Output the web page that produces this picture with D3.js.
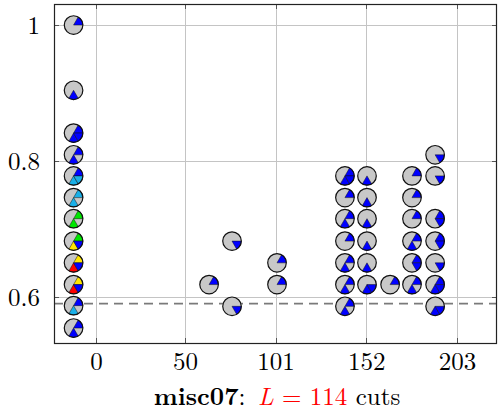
<!DOCTYPE html>
<html><head><meta charset="utf-8">
<script src="https://cdn.jsdelivr.net/npm/d3@7"></script>
<style>html,body{margin:0;padding:0;background:#fff;}svg{display:block;}</style>
</head><body>
<script>
// ---- data ----
const xTickValues = [0, 50, 101, 152, 203];
const xTickLabels = ["0", "50", "101", "152", "203"];
const yTickValues = [0.6, 0.8, 1.0];
const yTickLabels = ["0.6", "0.8", "1"];
const referenceY = 0.59;
const xDomain = [-23.6, 225.5];
const yDomain = [0.532, 1.031];

// points: x, y and 6 sector colour codes (sector k spans 60k..60(k+1) deg, ccw from 3 o'clock)
const pointX = [
  -12.6, -12.6, -12.6, -12.6, -12.6, -12.6, -12.6, -12.6, -12.6, -12.6, -12.6, -12.6,
  63.6, 76.5, 76.5, 101.8, 101.8,
  140, 140, 140, 140, 140, 140, 140,
  152.4, 152.4, 152.4, 152.4, 152.4, 152.4,
  165.4,
  177.7, 177.7, 177.7, 177.7, 177.7, 177.7,
  190.7, 190.7, 190.7, 190.7, 190.7, 190.7, 190.7
];
const pointY = [
  1.0, 0.904, 0.841, 0.809, 0.778, 0.746, 0.715, 0.682, 0.650, 0.618, 0.587, 0.554,
  0.618, 0.682, 0.586, 0.650, 0.618,
  0.778, 0.746, 0.715, 0.682, 0.650, 0.618, 0.586,
  0.778, 0.746, 0.715, 0.682, 0.650, 0.618,
  0.618,
  0.778, 0.746, 0.715, 0.682, 0.650, 0.618,
  0.809, 0.778, 0.715, 0.682, 0.650, 0.618, 0.586
];
const pointSectors = [
  "bggggg", "ggggbg", "bgggbb", "bgggbg", "bgggcc", "cgggcg", "lggglg", "lgggyb", "ygggrb", "ygggrb", "bgggcg", "bgggbg",
  "bggggg", "gggggb", "gggggb", "bggggg", "bggggg",
  "bgggbb", "bggggg", "bgggbg", "bggggg", "bgggbg", "bgggbg", "bgggbg",
  "ggggbg", "ggggbg", "ggggbg", "ggggbg", "ggggbg", "ggggbb",
  "bggggg",
  "bggggg", "bggggg", "bggggg", "bgggbg", "bggggb", "bgggbg",
  "gggggb", "gggggb", "bggggb", "bggggb", "gggggb", "bgggbb", "ggggbb"
];
const colourCodes = {g: "#c8c8c8", b: "#0000ff", c: "#1ab0e8", l: "#00e600", y: "#ffe600", r: "#ff0000"};

// ---- layout ----
const W = 498, H = 412;
const L = 54, R = 497, T = 4, B = 343;
const R0 = 9.3;
const font = "'Latin Modern Roman','Liberation Serif','DejaVu Serif',serif";

const svg = d3.select("body").append("svg").attr("width", W).attr("height", H);
const x = d3.scaleLinear().domain(xDomain).range([L, R]);
const y = d3.scaleLinear().domain(yDomain).range([B, T]);

// grid
const grid = svg.append("g").attr("stroke", "#c4c4c4").attr("stroke-width", 1);
grid.selectAll("line.v").data(xTickValues).join("line")
  .attr("x1", d => Math.round(x(d)) + 0.5).attr("x2", d => Math.round(x(d)) + 0.5)
  .attr("y1", T).attr("y2", B);
grid.selectAll("line.h").data(yTickValues).join("line")
  .attr("y1", d => Math.round(y(d)) + 0.5).attr("y2", d => Math.round(y(d)) + 0.5)
  .attr("x1", L).attr("x2", R);

// axes
const xAxis = d3.axisBottom(x).tickValues(xTickValues).tickFormat((d, i) => xTickLabels[i]).tickSize(0).tickPadding(8);
const yAxis = d3.axisLeft(y).tickValues(yTickValues).tickFormat((d, i) => yTickLabels[i]).tickSize(0).tickPadding(14);
const gx = svg.append("g").attr("transform", `translate(0,${B})`).call(xAxis);
const gy = svg.append("g").attr("transform", `translate(${L},0)`).call(yAxis);
[gx, gy].forEach(g => {
  g.select(".domain").remove();
  g.selectAll("text").attr("font-family", font).attr("font-size", 25).attr("fill", "#000");
});
gx.selectAll("text").attr("dy", "0.75em");
gy.selectAll("text").attr("dy", "0.35em");

// small tick marks inside frame
const tk = svg.append("g").attr("stroke", "#555").attr("stroke-width", 1);
xTickValues.forEach(v => {
  const px = Math.round(x(v)) + 0.5;
  tk.append("line").attr("x1", px).attr("x2", px).attr("y1", B).attr("y2", B - 5);
  tk.append("line").attr("x1", px).attr("x2", px).attr("y1", T).attr("y2", T + 5);
});
yTickValues.forEach(v => {
  const py = Math.round(y(v)) + 0.5;
  tk.append("line").attr("x1", L).attr("x2", L + 5).attr("y1", py).attr("y2", py);
  tk.append("line").attr("x1", R).attr("x2", R - 5).attr("y1", py).attr("y2", py);
});

// dashed reference line
svg.append("line").attr("x1", L).attr("x2", R)
  .attr("y1", y(referenceY)).attr("y2", y(referenceY))
  .attr("stroke", "#7a7a7a").attr("stroke-width", 1.8).attr("stroke-dasharray", "9,6");

// frame
svg.append("rect").attr("x", L + 0.5).attr("y", T + 0.5).attr("width", R - L - 1).attr("height", B - T)
  .attr("fill", "none").attr("stroke", "#222").attr("stroke-width", 1.2);

// glyphs
const arc = d3.arc().innerRadius(0).outerRadius(R0);
const glyphs = svg.append("g").selectAll("g").data(pointX.map((v, i) => i)).join("g")
  .attr("transform", i => `translate(${x(pointX[i])},${y(pointY[i])})`);
glyphs.append("circle").attr("r", R0).attr("fill", colourCodes.g);
glyphs.each(function(i) {
  const g = d3.select(this);
  pointSectors[i].split("").forEach((c, k) => {
    if (c === "g") return;
    const a0 = Math.PI / 2 - (k + 1) * Math.PI / 3;
    const a1 = Math.PI / 2 - k * Math.PI / 3;
    g.append("path").attr("d", arc({startAngle: a0, endAngle: a1}))
      .attr("fill", colourCodes[c]).attr("stroke", "#111").attr("stroke-width", 0.5);
  });
});
glyphs.append("circle").attr("r", R0).attr("fill", "none").attr("stroke", "#111").attr("stroke-width", 1.2);

// title
const title = svg.append("text").attr("x", 277).attr("y", 405).attr("text-anchor", "middle")
  .attr("font-family", font).attr("font-size", 25).attr("fill", "#000");
title.append("tspan").attr("font-weight", "bold").text("misc07");
title.append("tspan").text(":\u2002");
title.append("tspan").attr("fill", "#ff0000").attr("font-style", "italic").text("L");
title.append("tspan").attr("fill", "#ff0000").text(" = 114");
title.append("tspan").text(" cuts");
</script>
</body></html>
